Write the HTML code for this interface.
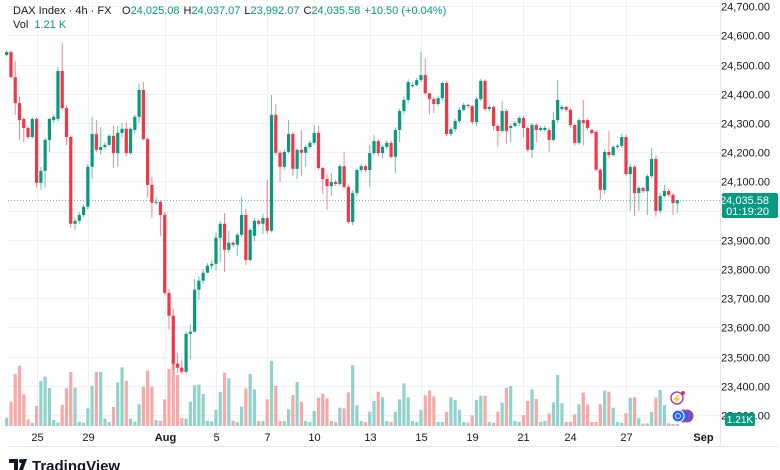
<!DOCTYPE html>
<html><head><meta charset="utf-8"><style>
body{margin:0;background:#fff;}
svg{display:block;font-family:"Liberation Sans",sans-serif;}
</style></head><body>
<svg id="chart" width="780" height="470" viewBox="0 0 780 470" xmlns="http://www.w3.org/2000/svg">
<rect x="0" y="0" width="780" height="470" fill="#fff"/>
<g id="grid"></g>
<g id="vols"></g>
<g id="candles"></g>
<line x1="8" x2="720" y1="200.5" y2="200.5" stroke="#089981" stroke-width="1" stroke-dasharray="1,2" opacity="0.6"/>
<line x1="720.5" x2="720.5" y1="0" y2="446" stroke="#e6e6e9"/>
<line x1="8" x2="778" y1="446.5" y2="446.5" stroke="#e6e6e9"/>
<g id="yaxis" font-size="11" fill="#131722" text-anchor="end"></g>
<g id="xaxis" font-size="11" fill="#131722" text-anchor="middle"></g>
<g font-size="11">
<text x="13" y="14" fill="#131722">DAX Index · 4h · FX</text>
<text x="122" y="14"><tspan fill="#131722">O</tspan><tspan fill="#089981">24,025.08</tspan><tspan fill="#131722" dx="4">H</tspan><tspan fill="#089981">24,037.07</tspan><tspan fill="#131722" dx="4">L</tspan><tspan fill="#089981">23,992.07</tspan><tspan fill="#131722" dx="4">C</tspan><tspan fill="#089981">24,035.58</tspan><tspan fill="#089981" dx="4">+10.50 (+0.04%)</tspan></text>
<text x="13" y="28" fill="#131722">Vol <tspan fill="#089981" dx="3">1.21 K</tspan></text>
</g>
<g>
<rect x="722" y="193" width="56" height="25" rx="2" fill="#089981"/>
<text x="769" y="204" font-size="11" fill="#fff" text-anchor="end">24,035.58</text>
<text x="769" y="215" font-size="11" fill="#fff" text-anchor="end">01:19:20</text>
</g>
<g>
<rect x="725" y="413" width="30" height="13" rx="2" fill="#089981"/>
<text x="740" y="423" font-size="10" fill="#fff" text-anchor="middle">1.21K</text>
</g>
<g>
<circle cx="677" cy="398" r="6" fill="#fff" stroke="#9c27b0" stroke-width="1.3"/>
<text x="677" y="402" font-size="9" fill="#9c27b0" text-anchor="middle">⚡</text>
<circle cx="683" cy="393" r="2" fill="#f23645"/>
</g>
<g>
<circle cx="687" cy="416" r="6" fill="#2962ff" stroke="#f23645" stroke-width="1"/>
<circle cx="683" cy="416" r="6" fill="#2962ff" stroke="#f23645" stroke-width="1"/>
<circle cx="678" cy="416" r="6" fill="#2962ff" stroke="#fff" stroke-width="1.2"/>
<circle cx="678" cy="416" r="2.5" fill="none" stroke="#fff" stroke-width="0.8"/>
</g>
<g>
<path d="M9 459h9v11h-4v-7h-5z M19 470l4-11h4l-4 11z" fill="#131722"/>
<circle cx="21" cy="461" r="2" fill="#131722"/>
<text x="32" y="471" font-size="15" font-weight="bold" fill="#131722">TradingView</text>
</g>
</svg>
<script>
const priceTicks=[24700,24600,24500,24400,24300,24200,24100,24000,23900,23800,23700,23600,23500,23400,23300];
const dateLabels=["25","29","Aug","5","7","10","13","15","19","21","24","27","Sep"];
const dateIndex=[7,19,37,49,61,72,85,97,109,121,132,145,163];
const opens=[24533,24543,24457,24368,24314,24283,24252,24314,24095,24136,24242,24310,24314,24478,24351,24252,23955,23965,23985,24013,24150,24262,24208,24218,24225,24256,24197,24266,24280,24197,24276,24321,24413,24245,24088,24027,24030,23985,23718,23640,23476,23462,23448,23578,23585,23729,23760,23787,23811,23818,23907,23955,23866,23890,23883,23917,23985,23831,23914,23965,23955,23975,23931,24328,24198,24150,24201,24262,24143,24208,24198,24218,24232,24266,24146,24108,24084,24098,24091,24152,24081,23961,24060,24139,24152,24139,24197,24238,24197,24218,24232,24184,24276,24341,24379,24426,24430,24447,24464,24402,24382,24365,24385,24437,24262,24279,24307,24345,24362,24358,24303,24382,24444,24348,24355,24290,24273,24341,24283,24290,24300,24317,24283,24208,24293,24276,24276,24276,24242,24310,24348,24355,24345,24293,24232,24310,24310,24276,24270,24140,24071,24201,24190,24218,24222,24252,24125,24150,24060,24078,24067,24118,24177,23999,24050,24067,24054,24025];
const highs=[24548,24548,24512,24392,24320,24290,24318,24318,24150,24250,24318,24328,24492,24574,24360,24258,23975,23995,24020,24160,24321,24310,24286,24235,24262,24290,24290,24300,24300,24285,24330,24434,24441,24250,24115,24045,24035,23995,23730,23664,23513,23490,23585,23610,23766,23775,23800,23820,23830,23925,23965,23992,23930,23895,23925,24047,24006,23940,23975,23970,23990,24105,24396,24365,24205,24210,24310,24268,24215,24276,24225,24240,24293,24290,24150,24125,24129,24105,24160,24200,24090,24070,24145,24160,24158,24225,24259,24245,24225,24240,24240,24285,24350,24390,24450,24440,24455,24543,24522,24390,24390,24392,24445,24445,24285,24315,24355,24370,24366,24362,24390,24452,24450,24362,24360,24295,24375,24348,24296,24308,24325,24325,24290,24300,24300,24290,24290,24285,24338,24447,24362,24360,24350,24298,24318,24379,24315,24280,24276,24145,24210,24272,24225,24228,24262,24260,24160,24156,24085,24080,24125,24214,24190,24060,24088,24075,24060,24037];
const lows=[24528,24454,24327,24242,24235,24245,24248,24078,24071,24078,24201,24300,24305,24345,24225,23941,23934,23955,23978,24005,24108,24200,24191,24210,24218,24146,24150,24250,24185,24190,24265,24300,24240,24044,23976,24020,23914,23710,23592,23455,23445,23440,23440,23490,23600,23695,23750,23790,23800,23795,23825,23790,23855,23875,23845,23910,23814,23825,23895,23948,23920,23920,23925,24190,24098,24140,24195,24119,24108,24119,24150,24212,24225,24140,24057,24003,24050,24085,24085,24075,23955,23950,24050,24130,24130,24081,24190,24185,24180,24210,24178,24129,24235,24330,24370,24420,24425,24440,24395,24330,24334,24358,24378,24255,24255,24270,24300,24340,24350,24295,24290,24375,24340,24340,24273,24218,24265,24228,24235,24285,24290,24249,24201,24180,24235,24270,24270,24201,24235,24300,24340,24338,24285,24222,24225,24222,24275,24260,24135,24037,24057,24180,24185,24212,24215,24120,23999,23982,23999,24060,23985,24110,23979,23990,24045,24048,23985,23992];
const closes=[24543,24457,24368,24310,24283,24252,24314,24095,24136,24242,24314,24321,24478,24351,24252,23955,23965,23985,24013,24150,24262,24208,24218,24225,24256,24197,24266,24280,24197,24280,24321,24413,24245,24088,24027,24030,23985,23718,23640,23476,23462,23448,23578,23585,23729,23760,23787,23811,23818,23907,23955,23866,23890,23883,23917,23985,23831,23934,23965,23955,23975,23931,24328,24198,24150,24201,24262,24143,24208,24198,24218,24232,24266,24146,24108,24084,24098,24091,24152,24081,23961,24060,24139,24152,24139,24197,24238,24197,24218,24232,24184,24276,24341,24379,24440,24430,24447,24464,24402,24382,24365,24385,24437,24262,24279,24307,24345,24362,24358,24303,24382,24444,24348,24355,24290,24273,24341,24273,24290,24300,24317,24283,24208,24293,24276,24283,24283,24242,24310,24379,24355,24345,24293,24232,24310,24300,24283,24266,24140,24071,24201,24190,24218,24222,24252,24125,24150,24060,24078,24067,24118,24177,23999,24050,24067,24054,24026,24036];
const volumes=[5,14.6,31.2,36.2,19,4,2,12,27,29.6,22.8,3.6,2,12.6,22.6,32.4,23,2.6,2,10.6,24.2,32.4,32.4,4.4,2.4,11.4,26.2,35.2,27,4.4,2.6,13,23.6,33.2,23.6,3.6,3,16,34.2,39.6,30.6,4.8,4.4,14.6,24.4,24.8,19.2,3,2.8,9.6,20.4,32,28.6,3.2,2.4,11.6,22.6,31.2,22,3,3,16,39,24,3,3,10,18.6,26.4,14.6,3,2.4,9,17,19.4,16.6,3,2.4,11,10.6,20.2,36.4,12.4,3,2.4,8.6,15,20.6,17.2,3,2.4,8.6,16,25.6,17.2,3,2.4,9.6,18.4,21.4,17.8,2.4,2.4,8.4,17.2,15.6,9.6,2.4,2,6.4,15.6,18.2,18.2,2.4,2,8.6,14,23,24,3,2.4,6.6,15,22,16.2,2.4,3,7.6,14.2,30.6,13.6,2.4,2.4,7,13,20,13,2.4,2.4,13,21.2,20.6,11,2.4,2,7.6,17,17.2,4.6,1.4,1.6,8.4,17,21.6,12.6,1.6,1.2,1.21];

const NS="http://www.w3.org/2000/svg";
function yP(p){return 123-(p-24300)*0.292;}
function xI(i){return 6.7+i*4.271;}
function yV(v){return 426-v*1.667;}
function mk(tag,attrs,parent){const e=document.createElementNS(NS,tag);for(const k in attrs)e.setAttribute(k,attrs[k]);parent.appendChild(e);return e;}
const grid=document.getElementById('grid'),ya=document.getElementById('yaxis'),xa=document.getElementById('xaxis');
priceTicks.forEach(p=>{
  const y=Math.round(yP(p))+0.5;
  const l=mk('line',{x1:8,x2:720,y1:y,y2:y,stroke:'#f2f0f3'},grid);
  
  
  const t=mk('text',{x:770,y:y+4},ya);
  
  
  t.textContent=p.toLocaleString('en-US')+'.00';
});
dateLabels.forEach((d,k)=>{
  const x=Math.round(xI(dateIndex[k]))+0.5;
  if(d!=='Sep'){
    const l=mk('line',{x1:x,x2:x,y1:0,y2:446,stroke:'#f2f0f3'},grid);
    
    
  }
  const t=mk('text',{x:x,y:441,'font-weight':d==='Aug'||d==='Sep'?'bold':'normal'},xa);
  
  
  t.textContent=d;
});
const vg=document.getElementById('vols'),cg=document.getElementById('candles');
volumes.forEach((v,i)=>{
  const up=closes[i]>=opens[i];
  const y=yV(v);
  const r=mk('rect',{x:xI(i)-1.6,y:y,width:3.2,height:426-y,fill:up?'#92d2cc':'#f7a9a7'},vg);
  
  
});
closes.forEach((c,i)=>{
  const o=opens[i],up=c>=o,col=up?'#089981':'#f23645';
  const x=xI(i);
  const g=mk('g',{},cg);
  
  
  mk('line',{x1:x,x2:x,y1:yP(highs[i]),y2:yP(lows[i]),stroke:col,'stroke-width':1,opacity:0.6},g);
  const t=yP(Math.max(o,c)),b=yP(Math.min(o,c));
  mk('rect',{x:x-1.6,y:t,width:3.2,height:Math.max(1,b-t),fill:col},g);
});
</script>
</body></html>
